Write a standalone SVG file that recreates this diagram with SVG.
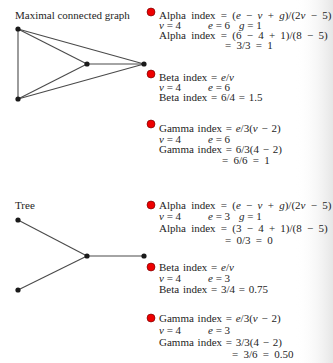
<svg xmlns="http://www.w3.org/2000/svg" width="333" height="363" viewBox="0 0 333 363">
<style>
text{font-family:"Liberation Serif","Times New Roman",serif;font-size:11px;fill:#1e1e1e}
.i{font-style:italic}
.w{word-spacing:2.5px}
.m{word-spacing:1px}
.edge{stroke:#4a4a4a;stroke-width:1.1;fill:none}
.node{fill:#1a1a1a}
.bullet{fill:#ee0000;stroke:#600;stroke-width:0.6}
</style>
<defs>
<linearGradient id="shade" x1="0" x2="1" y1="0" y2="0">
<stop offset="0" stop-color="#ffffff" stop-opacity="0"/>
<stop offset="1" stop-color="#e6e6e6"/>
</linearGradient>
</defs>
<rect width="333" height="363" fill="#ffffff"/>
<rect x="295" width="38" height="363" fill="url(#shade)"/>

<text x="15" y="18.5">Maximal connected graph</text>
<text x="15" y="208.5">Tree</text>

<g id="connectors">
<line class="edge" x1="18" y1="29" x2="18" y2="99"/>
<line class="edge" x1="18" y1="29" x2="87" y2="64"/>
<line class="edge" x1="18" y1="29" x2="144" y2="64"/>
<line class="edge" x1="18" y1="99" x2="87" y2="64"/>
<line class="edge" x1="18" y1="99" x2="144" y2="64"/>
<line class="edge" x1="87" y1="64" x2="144" y2="64"/>
<line class="edge" x1="18" y1="220" x2="87" y2="256"/>
<line class="edge" x1="18" y1="290" x2="87" y2="256"/>
<line class="edge" x1="87" y1="256" x2="144" y2="256"/>
</g>

<g id="g1-n1"><circle class="node" cx="18" cy="29" r="2.6"/></g>
<g id="g1-n2"><circle class="node" cx="87" cy="64" r="2.6"/></g>
<g id="g1-n3"><circle class="node" cx="144" cy="64" r="2.6"/></g>
<g id="g1-n4"><circle class="node" cx="18" cy="99" r="2.6"/></g>
<g id="g2-n1"><circle class="node" cx="18" cy="220" r="2.6"/></g>
<g id="g2-n2"><circle class="node" cx="87" cy="256" r="2.6"/></g>
<g id="g2-n3"><circle class="node" cx="144" cy="256" r="2.6"/></g>
<g id="g2-n4"><circle class="node" cx="18" cy="290" r="2.6"/></g>

<g id="alpha1">
<circle class="bullet" cx="151" cy="12" r="4"/>
<text class="w" x="159" y="18.5">Alpha index = (<tspan class="i">e</tspan> − <tspan class="i">v</tspan> + <tspan class="i">g</tspan>)/(2<tspan class="i">v</tspan> − 5)</text>
<text x="159" y="28.5"><tspan class="i">v</tspan> = 4</text>
<text x="208" y="28.5"><tspan class="i">e</tspan> = 6</text>
<text x="239" y="28.5"><tspan class="i">g</tspan> = 1</text>
<text class="w" x="159" y="38.5">Alpha index = (6 − 4 + 1)/(8 − 5)</text>
<text class="w" x="225" y="48.5">= 3/3 = 1</text>
</g>
<g id="beta1">
<circle class="bullet" cx="151" cy="74" r="4"/>
<text class="m" x="159" y="80.5">Beta index = <tspan class="i">e</tspan>/<tspan class="i">v</tspan></text>
<text x="159" y="90.5"><tspan class="i">v</tspan> = 4</text>
<text x="208" y="90.5"><tspan class="i">e</tspan> = 6</text>
<text class="m" x="159" y="100.5">Beta index = 6/4 = 1.5</text>
</g>
<g id="gamma1">
<circle class="bullet" cx="151" cy="124" r="4"/>
<text class="m" x="159" y="132">Gamma index = <tspan class="i">e</tspan>/3(<tspan class="i">v</tspan> − 2)</text>
<text x="159" y="142.5"><tspan class="i">v</tspan> = 4</text>
<text x="208" y="142.5"><tspan class="i">e</tspan> = 6</text>
<text class="m" x="159" y="153">Gamma index = 6/3(4 − 2)</text>
<text class="w" x="222" y="163.5">= 6/6 = 1</text>
</g>

<g id="alpha2">
<circle class="bullet" cx="151" cy="205" r="4"/>
<text class="w" x="159" y="208.5">Alpha index = (<tspan class="i">e</tspan> − <tspan class="i">v</tspan> + <tspan class="i">g</tspan>)/(2<tspan class="i">v</tspan> − 5)</text>
<text x="159" y="220"><tspan class="i">v</tspan> = 4</text>
<text x="208" y="220"><tspan class="i">e</tspan> = 3</text>
<text x="239" y="220"><tspan class="i">g</tspan> = 1</text>
<text class="w" x="159" y="232">Alpha index = (3 − 4 + 1)/(8 − 5)</text>
<text class="w" x="225" y="244">= 0/3 = 0</text>
</g>
<g id="beta2">
<circle class="bullet" cx="151" cy="267" r="4"/>
<text class="m" x="159" y="270.5">Beta index = <tspan class="i">e</tspan>/<tspan class="i">v</tspan></text>
<text x="159" y="281.5"><tspan class="i">v</tspan> = 4</text>
<text x="208" y="281.5"><tspan class="i">e</tspan> = 3</text>
<text class="m" x="159" y="292.5">Beta index = 3/4 = 0.75</text>
</g>
<g id="gamma2">
<circle class="bullet" cx="151" cy="318" r="4"/>
<text class="m" x="159" y="322">Gamma index = <tspan class="i">e</tspan>/3(<tspan class="i">v</tspan> − 2)</text>
<text x="159" y="334"><tspan class="i">v</tspan> = 4</text>
<text x="208" y="334"><tspan class="i">e</tspan> = 3</text>
<text class="m" x="159" y="346">Gamma index = 3/3(4 − 2)</text>
<text class="w" x="232" y="358">= 3/6 = 0.50</text>
</g>
</svg>
